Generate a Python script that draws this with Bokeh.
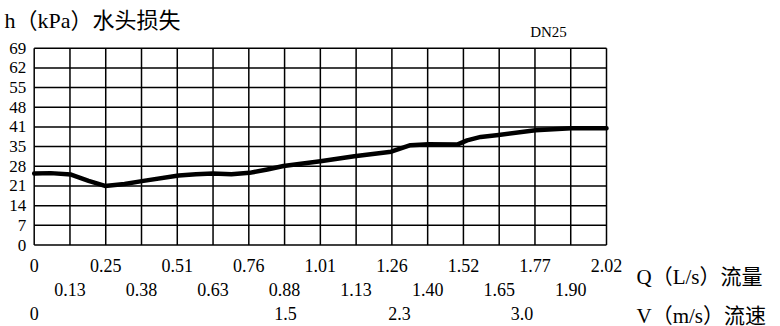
from bokeh.plotting import figure
from bokeh.models import Range1d
from bokeh.embed import file_html
from bokeh.resources import INLINE
from bokeh.core.properties import value

# ---- data ----
q_max = 2.02
h_max = 69
q_tick_labels = ["0", "0.13", "0.25", "0.38", "0.51", "0.63", "0.76", "0.88", "1.01",
                 "1.13", "1.26", "1.40", "1.52", "1.65", "1.77", "1.90", "2.02"]
h_tick_labels = ["0", "7", "14", "21", "28", "35", "41", "48", "55", "62", "69"]
v_labels = ["0", "1.5", "2.3", "3.0"]
v_label_q = [0.0, 0.887, 1.289, 1.722]

curve_q = [0.0, 0.058, 0.13, 0.192, 0.25, 0.319, 0.38, 0.51, 0.571, 0.63, 0.696, 0.76,
           0.823, 0.88, 1.01, 1.13, 1.26, 1.328, 1.392, 1.493, 1.528, 1.576, 1.639,
           1.769, 1.895, 2.02]
curve_h = [25.1, 25.2, 24.7, 22.5, 20.7, 21.4, 22.4, 24.4, 24.8, 25.1, 24.8, 25.3,
           26.5, 27.7, 29.4, 31.1, 32.7, 35.0, 35.3, 35.2, 36.7, 37.9, 38.6,
           40.2, 40.9, 40.9]

title_text = "h（kPa）水头损失"
size_text = "DN25"
q_axis_text = "Q（L/s）流量"
v_axis_text = "V（m/s）流速"

SERIF = "Liberation Serif"
SERIF_CJK = "Liberation Serif, Noto Sans CJK SC"

# ---- layout (pixels of the canvas) ----
W, H = 780, 326
box_left, box_right, box_top, box_bottom = 33.7, 606.0, 47.7, 244.5
sx = q_max / (box_right - box_left)      # data units per px (x)
sy = h_max / (box_bottom - box_top)      # data units per px (y)

def qx(px):
    return (px - box_left) * sx

def hy(py):
    return (box_bottom - py) * sy

n_q = len(q_tick_labels) - 1
q_ticks = [i * q_max / n_q for i in range(n_q + 1)]
n_h = len(h_tick_labels) - 1
h_ticks = [i * h_max / n_h for i in range(n_h + 1)]

p = figure(width=W, height=H, output_backend="svg", toolbar_location=None,
           x_range=Range1d(qx(0), qx(W)), y_range=Range1d(hy(H), hy(0)),
           min_border=0)
p.axis.visible = False
p.grid.visible = False
p.outline_line_color = None
p.background_fill_color = "white"
p.border_fill_color = "white"

# grid lines (box included)
p.segment(x0=q_ticks, y0=[0] * len(q_ticks), x1=q_ticks, y1=[h_max] * len(q_ticks),
          line_color="black", line_width=1.5)
p.segment(x0=[0] * len(h_ticks), y0=h_ticks, x1=[q_max] * len(h_ticks), y1=h_ticks,
          line_color="black", line_width=1.5)

# curve
p.line(curve_q, curve_h, line_color="black", line_width=4.5, line_join="round", line_cap="round")

# y tick labels
p.text(x=[qx(box_left - 8)] * len(h_ticks), y=h_ticks, text=h_tick_labels,
       text_align="right", text_baseline="middle", text_color="black",
       text_font=value(SERIF), text_font_size=value("17px"))

# Q tick labels: two staggered rows
p.text(x=q_ticks[0::2], y=[hy(265)] * len(q_ticks[0::2]), text=q_tick_labels[0::2],
       text_align="center", text_baseline="middle", text_color="black",
       text_font=value(SERIF), text_font_size=value("18px"))
p.text(x=q_ticks[1::2], y=[hy(288.5)] * len(q_ticks[1::2]), text=q_tick_labels[1::2],
       text_align="center", text_baseline="middle", text_color="black",
       text_font=value(SERIF), text_font_size=value("18px"))

# velocity row
p.text(x=v_label_q, y=[hy(312.5)] * len(v_labels), text=v_labels,
       text_align="center", text_baseline="middle", text_color="black",
       text_font=value(SERIF), text_font_size=value("18px"))

# titles
p.text(x=[qx(4)], y=[hy(20)], text=[title_text], text_align="left", text_baseline="middle",
       text_color="black", text_font=value(SERIF_CJK), text_font_size=value("22px"))
p.text(x=[qx(548)], y=[hy(31.5)], text=[size_text], text_align="center", text_baseline="middle",
       text_color="black", text_font=value(SERIF), text_font_size=value("15px"))
p.text(x=[qx(636)], y=[hy(276)], text=[q_axis_text], text_align="left", text_baseline="middle",
       text_color="black", text_font=value(SERIF_CJK), text_font_size=value("21px"))
p.text(x=[qx(636)], y=[hy(315)], text=[v_axis_text], text_align="left", text_baseline="middle",
       text_color="black", text_font=value(SERIF_CJK), text_font_size=value("21px"))

open("out.html", "w").write(file_html(p, INLINE))
